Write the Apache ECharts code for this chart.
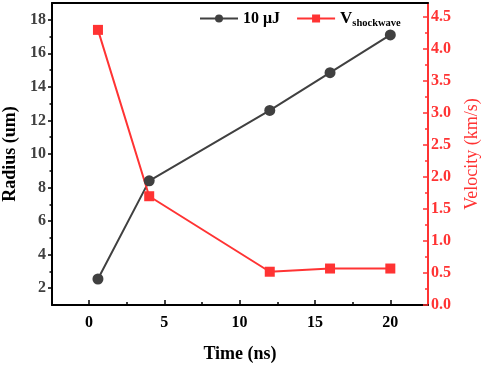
<!DOCTYPE html>
<html><head><meta charset="utf-8">
<script src="https://cdn.jsdelivr.net/npm/echarts@6/dist/echarts.min.js"></script>
<style>html,body{margin:0;padding:0;background:#fff}#c{width:484px;height:365px}</style>
</head><body><div id="c"></div>
<script>
const timeNs = [0.6, 4, 12, 16, 20];
const radiusUm = [2.55, 8.4, 12.6, 14.85, 17.1];
const velocityKms = [4.3, 1.7, 0.52, 0.57, 0.57];
const xTicks = [0, 5, 10, 15, 20];
const xMinor = [2.5, 7.5, 12.5, 17.5];
const yLeftTicks = [2, 4, 6, 8, 10, 12, 14, 16, 18];
const yLeftMinor = [3, 5, 7, 9, 11, 13, 15, 17];
const yRightTicks = [0, 0.5, 1, 1.5, 2, 2.5, 3, 3.5, 4, 4.5];
const yRightMinor = [0.25, 0.75, 1.25, 1.75, 2.25, 2.75, 3.25, 3.75, 4.25];

const F = 'Liberation Serif';
const BLK = '#000';
const GRY = '#404040';
const RED = '#ff3333';
const X0 = -2.45, X1 = 22.5, YL0 = 1, YL1 = 19, YR0 = 0, YR1 = 4.72;

const chart = echarts.init(document.getElementById('c'));
chart.setOption({
  animation: false,
  grid: {left: 52, right: 56, top: 3, bottom: 60, containLabel: false, outerBoundsMode: 'none'},
  legend: {
    left: 194, top: 5, itemGap: 16, itemWidth: 38, itemHeight: 10,
    textStyle: {fontFamily: F, fontWeight: 'bold', fontSize: 16, color: BLK,
      rich: {a: {fontFamily: F, fontWeight: 'bold', fontSize: 17, color: BLK},
             b: {fontFamily: F, fontWeight: 'bold', fontSize: 10.5, color: BLK, padding: [9, 0, 0, 0]}}},
    formatter: n => n === 'V' ? '{a|V}{b|shockwave}' : n,
    data: ['10 μJ', 'V']
  },
  xAxis: [
    {type: 'value', position: 'bottom', min: X0, max: X1,
     name: 'Time (ns)', nameLocation: 'middle', nameGap: 40,
     nameTextStyle: {fontFamily: F, fontWeight: 'bold', fontSize: 18, color: BLK},
     axisLine: {show: true, onZero: false, lineStyle: {color: BLK, width: 2}},
     axisTick: {show: true, inside: true, length: 5, lineStyle: {color: BLK, width: 1.5}, customValues: xTicks},
     axisLabel: {fontFamily: F, fontWeight: 'bold', fontSize: 16, color: BLK, margin: 10, customValues: xTicks},
     splitLine: {show: false}},
    {type: 'value', position: 'bottom', min: X0, max: X1,
     axisLine: {show: false, onZero: false},
     axisTick: {show: true, inside: true, length: 3, lineStyle: {color: BLK, width: 1.5}, customValues: xMinor},
     axisLabel: {show: false}, splitLine: {show: false}},
    {type: 'value', position: 'top', min: X0, max: X1,
     axisLine: {show: true, onZero: false, lineStyle: {color: BLK, width: 2}},
     axisTick: {show: false}, axisLabel: {show: false}, splitLine: {show: false}}
  ],
  yAxis: [
    {type: 'value', position: 'left', min: YL0, max: YL1,
     name: 'Radius (um)', nameLocation: 'middle', nameGap: 28, nameRotate: 90,
     nameTextStyle: {fontFamily: F, fontWeight: 'bold', fontSize: 18, color: BLK},
     axisLine: {show: true, onZero: false, lineStyle: {color: BLK, width: 2}},
     axisTick: {show: true, inside: false, length: 4, lineStyle: {color: BLK, width: 1.5}, customValues: yLeftTicks},
     axisLabel: {fontFamily: F, fontWeight: 'bold', fontSize: 16, color: GRY, margin: 6, customValues: yLeftTicks},
     splitLine: {show: false}},
    {type: 'value', position: 'right', min: YR0, max: YR1,
     name: 'Velocity (km/s)', nameLocation: 'middle', nameGap: 35, nameRotate: 90,
     nameTextStyle: {fontFamily: F, fontSize: 18, color: RED},
     axisLine: {show: true, onZero: false, lineStyle: {color: RED, width: 2}},
     axisTick: {show: true, inside: true, length: 5, lineStyle: {color: RED, width: 1.5}, customValues: yRightTicks},
     axisLabel: {fontFamily: F, fontWeight: 'bold', fontSize: 16, color: RED, margin: 3,
       customValues: yRightTicks, formatter: v => v.toFixed(1)},
     splitLine: {show: false}},
    {type: 'value', position: 'left', min: YL0, max: YL1,
     axisLine: {show: false, onZero: false},
     axisTick: {show: true, inside: false, length: 2.5, lineStyle: {color: BLK, width: 1.5}, customValues: yLeftMinor},
     axisLabel: {show: false}, splitLine: {show: false}},
    {type: 'value', position: 'right', min: YR0, max: YR1,
     axisLine: {show: false, onZero: false},
     axisTick: {show: true, inside: true, length: 3, lineStyle: {color: RED, width: 1.5}, customValues: yRightMinor},
     axisLabel: {show: false}, splitLine: {show: false}}
  ],
  series: [
    {name: '10 μJ', type: 'line', xAxisIndex: 0, yAxisIndex: 0,
     data: timeNs.map((t, i) => [t, radiusUm[i]]),
     symbol: 'circle', symbolSize: 11,
     lineStyle: {color: GRY, width: 2}, itemStyle: {color: GRY}},
    {name: 'V', type: 'line', xAxisIndex: 0, yAxisIndex: 1,
     data: timeNs.map((t, i) => [t, velocityKms[i]]),
     symbol: 'rect', symbolSize: 10,
     lineStyle: {color: RED, width: 2}, itemStyle: {color: RED}}
  ]
});
</script></body></html>
